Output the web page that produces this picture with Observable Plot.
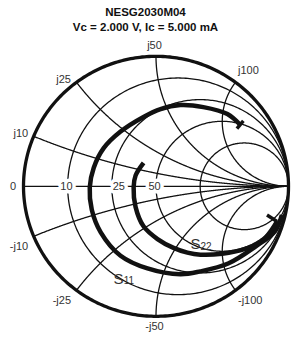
<!DOCTYPE html>
<html><head><meta charset="utf-8">
<script src="https://cdn.jsdelivr.net/npm/d3@7"></script>
<script src="https://cdn.jsdelivr.net/npm/@observablehq/plot@0.6"></script>
<style>
body{margin:0;background:#fff;font-family:"Liberation Sans",Arial,sans-serif;}
#title{position:relative;width:291px;height:35px;}
#title div{position:absolute;left:0;width:291px;text-align:center;font-weight:bold;font-size:11.5px;line-height:11.5px;color:#111;white-space:nowrap;}
</style></head><body>
<div id="title"><div id="t1" style="top:6.5px"></div><div id="t2" style="top:21.5px"></div></div>
<div id="chart"></div>
<script>
// ---- data ----
const titleLines = ["NESG2030M04", "Vc = 2.000 V, Ic = 5.000 mA"];
const z0 = 50;
const resistanceOhms = [10, 25, 50, 100];
const reactanceOhms = [10, 25, 50, 100];
const realAxisLabels = ["0", "10", "25", "50"];
const reactLabelsPos = ["j10", "j25", "j50", "j100"];
const reactLabelsNeg = ["-j10", "-j25", "-j50", "-j100"];
const seriesNames = ["S11", "S22"];
// S11 magnitude / angle (deg), low to high frequency
const s11Mag = [0.975, 0.962, 0.881, 0.806, 0.735, 0.701, 0.635, 0.597, 0.547, 0.517, 0.500, 0.491, 0.492, 0.499, 0.542, 0.595, 0.651, 0.706, 0.774, 0.792];
const s11Ang = [-13, -21.1, -31.9, -47.5, -62.9, -74.8, -95.8, -116.6, -139.7, -159.6, -179.1, 163.1, 143.4, 122.4, 100.0, 86.7, 73.6, 59.6, 45.9, 36.7];
// S22 magnitude / angle (deg)
const s22Mag = [0.953, 0.936, 0.905, 0.827, 0.720, 0.624, 0.563, 0.492, 0.406, 0.322, 0.221, 0.169, 0.175, 0.203];
const s22Ang = [-16.5, -20.7, -27.7, -35.6, -46.1, -57.5, -65.1, -74.4, -88.4, -107.0, -134.3, -177.5, 151.7, 117.5];
// series label anchors (mag, angle)
const seriesLabelMag = [0.754, 0.56];
const seriesLabelAng = [-108.9, -53.1];

// ---- layout ----
document.getElementById("t1").textContent = titleLines[0];
document.getElementById("t2").textContent = titleLines[1];
const SX = 132.5, SY = 130; // px per unit (approx, for label offsets)
const gamma = (r, x) => { const d = (r + 1) ** 2 + x * x; return [(r * r - 1 + x * x) / d, 2 * x / d]; };
const polar = (m, a) => [m * Math.cos(a * Math.PI / 180), m * Math.sin(a * Math.PI / 180)];

// grid
const grid = [];
resistanceOhms.forEach(R => {
  const rn = R / z0, c = rn / (1 + rn), rad = 1 / (1 + rn);
  for (let i = 0; i <= 360; i++) { const t = i / 360 * 2 * Math.PI; grid.push({id: "r" + R, x: c + rad * Math.cos(t), y: rad * Math.sin(t)}); }
});
reactanceOhms.forEach(X => {
  for (const s of [1, -1]) {
    const xn = s * X / z0;
    for (let i = 0; i <= 600; i++) {
      const t = i / 600 * Math.PI / 2 * 0.9995;
      const [gx, gy] = gamma(Math.tan(t), xn);
      grid.push({id: "x" + s * X, x: gx, y: gy});
    }
    grid.push({id: "x" + s * X, x: 1, y: 0});
  }
});
grid.push({id: "h", x: -1, y: 0}, {id: "h", x: 1, y: 0});
const outer = d3.range(0, 361).map(i => ({x: Math.cos(i * Math.PI / 180), y: Math.sin(i * Math.PI / 180)}));

// axis labels on real axis
const realOffsetsPx = [-10.5, -1.2, 7, -1.5];
const realPts = [-1, ...resistanceOhms.slice(0, 3).map(R => (R / z0 - 1) / (R / z0 + 1))];
const realLabels = realAxisLabels.map((t, i) => ({x: realPts[i] + realOffsetsPx[i] / SX, y: 0, text: t}));

// edge labels
const edgeLabels = [];
reactanceOhms.forEach((X, i) => {
  for (const s of [1, -1]) {
    const [gx, gy] = gamma(0, s * X / z0);
    const side = gx < -0.1 ? "end" : gx > 0.1 ? "start" : "middle";
    const dxp = side === "end" ? -5.5 : side === "start" ? 2.5 : -1.5;
    const dyp = s > 0 ? (side === "end" ? -3.2 : side === "start" ? -11.5 : -10.5) : 10;
    edgeLabels.push({x: gx + dxp / SX, y: gy - dyp / SY, text: s > 0 ? reactLabelsPos[i] : reactLabelsNeg[i], side});
  }
});

// series
const series = [];
s11Mag.forEach((m, i) => { const [x, y] = polar(m, s11Ang[i]); series.push({series: seriesNames[0], x, y}); });
s22Mag.forEach((m, i) => { const [x, y] = polar(m, s22Ang[i]); series.push({series: seriesNames[1], x, y}); });

// end ticks
function tick(p0, p1, before, after) {
  const ax = (p0.x - p1.x) * SX, ay = (p0.y - p1.y) * SY, L = Math.hypot(ax, ay);
  const px = -ay / L, py = ax / L; // perpendicular (ccw in data space)
  return {x1: p0.x - px * before / SX, y1: p0.y - py * before / SY, x2: p0.x + px * after / SX, y2: p0.y + py * after / SY};
}
const s11 = series.filter(d => d.series === "S11"), s22 = series.filter(d => d.series === "S22");
const ticks = [
  tick(s11[s11.length - 1], s11[s11.length - 2], 5, 5),
  tick(s22[0], s22[1], 0, 12)
];

const sLabels = seriesNames.map((n, i) => { const [x, y] = polar(seriesLabelMag[i], seriesLabelAng[i]); return {x, y, main: n[0], sub: n.slice(1)}; });

const ink = "#111";
const lbl = "#333";
const chart = Plot.plot({
  width: 291, height: 305,
  marginLeft: 0, marginRight: 0, marginTop: 0, marginBottom: 0,
  x: {domain: [-1, 1], range: [23, 288], axis: null},
  y: {domain: [-1, 1], range: [280.8, 20.8], axis: null},
  style: {background: "white", fontFamily: "'Liberation Sans', Arial, sans-serif"},
  marks: [
    Plot.line(grid, {x: "x", y: "y", z: "id", stroke: ink, strokeWidth: 1.3}),
    Plot.line(outer, {x: "x", y: "y", stroke: ink, strokeWidth: 3.3}),
    Plot.text(realLabels, {x: "x", y: "y", text: "text", fontSize: 11, fill: "white", stroke: "white", strokeWidth: 7, lineAnchor: "middle"}),
    Plot.text(realLabels, {x: "x", y: "y", text: "text", fontSize: 11, fill: lbl, lineAnchor: "middle"}),
    Plot.text(edgeLabels.filter(d => d.side === "end"), {x: "x", y: "y", text: "text", fontSize: 11, fill: lbl, textAnchor: "end", lineAnchor: "middle"}),
    Plot.text(edgeLabels.filter(d => d.side === "start"), {x: "x", y: "y", text: "text", fontSize: 11, fill: lbl, textAnchor: "start", lineAnchor: "middle"}),
    Plot.text(edgeLabels.filter(d => d.side === "middle"), {x: "x", y: "y", text: "text", fontSize: 11, fill: lbl, textAnchor: "middle", lineAnchor: "middle"}),
    Plot.line(series, {x: "x", y: "y", z: "series", stroke: ink, strokeWidth: 4.5, curve: "catmull-rom", strokeLinecap: "butt"}),
    Plot.link(ticks, {x1: "x1", y1: "y1", x2: "x2", y2: "y2", stroke: ink, strokeWidth: 3.5}),
    Plot.text(sLabels, {x: "x", y: "y", text: "main", fontSize: 15, fill: lbl, textAnchor: "end", lineAnchor: "middle"}),
    Plot.text(sLabels, {x: "x", y: "y", text: "sub", fontSize: 10, fill: lbl, textAnchor: "start", lineAnchor: "middle", dy: 2})
  ]
});
document.getElementById("chart").appendChild(chart);
</script>
</body></html>
